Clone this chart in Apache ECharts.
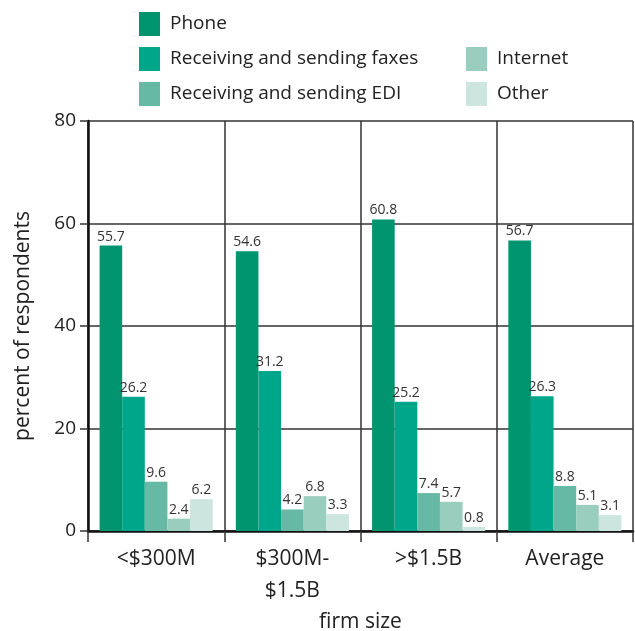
<!DOCTYPE html>
<html><head><meta charset="utf-8">
<script src="https://cdn.jsdelivr.net/npm/echarts@6/dist/echarts.min.js"></script>
<style>html,body{margin:0;padding:0;background:#fff}#c{width:635px;height:631px}</style>
</head><body><div id="c"></div>
<script>
const categories = ['<$300M', '$300M-\n$1.5B', '>$1.5B', 'Average'];
const seriesNames = ['Phone', 'Receiving and sending faxes', 'Receiving and sending EDI', 'Internet', 'Other'];
const phone = [55.7, 54.6, 60.8, 56.7];
const faxes = [26.2, 31.2, 25.2, 26.3];
const edi = [9.6, 4.2, 7.4, 8.8];
const internet = [2.4, 6.8, 5.7, 5.1];
const other = [6.2, 3.3, 0.8, 3.1];
const yTicks = [0, 20, 40, 60, 80];
const colors = ['#00956f', '#00a68a', '#66b9a4', '#99cdbd', '#cde5df'];
const values = [phone, faxes, edi, internet, other];
const font = 'Open Sans';

const chart = echarts.init(document.getElementById('c'));
const legendBase = {
  itemWidth: 21, itemHeight: 24, itemGap: 11, icon: 'rect',
  textStyle: { fontFamily: font, fontSize: 19, color: '#222', padding: [0, 0, 0, 5] },
  selectedMode: false
};
chart.setOption({
  animation: false,
  color: colors,
  textStyle: { fontFamily: font },
  legend: [
    Object.assign({}, legendBase, { data: [seriesNames[0]], left: 134, top: 7 }),
    Object.assign({}, legendBase, { data: [seriesNames[1], seriesNames[2]], left: 134, top: 42, orient: 'vertical' }),
    Object.assign({}, legendBase, { data: [seriesNames[3], seriesNames[4]], left: 461, top: 42, orient: 'vertical' })
  ],
  grid: { left: 88, right: 2, top: 121, bottom: 100, containLabel: false, outerBoundsMode: 'none' },
  xAxis: {
    type: 'category', data: categories,
    name: 'firm size', nameLocation: 'middle', nameGap: 80,
    nameTextStyle: { fontFamily: font, fontSize: 21, color: '#222' },
    axisLine: { lineStyle: { color: '#111', width: 2.5 } },
    axisTick: { show: true, length: 11, lineStyle: { color: '#333', width: 1.5 } },
    axisLabel: { fontFamily: font, fontSize: 21, color: '#222', margin: 12, lineHeight: 32 },
    splitLine: { show: true, lineStyle: { color: '#333', width: 1.5 } }
  },
  yAxis: {
    type: 'value', min: 0, max: 80, interval: 20,
    name: 'percent of respondents', nameLocation: 'middle', nameGap: 54,
    nameTextStyle: { fontFamily: font, fontSize: 21, color: '#222' },
    axisLine: { show: true, lineStyle: { color: '#111', width: 2.5 } },
    axisTick: { show: true, length: 8, lineStyle: { color: '#333', width: 1.5 } },
    axisLabel: { fontFamily: font, fontSize: 19, color: '#222', margin: 12,
      formatter: v => yTicks.includes(v) ? String(v) : '' },
    splitLine: { show: true, lineStyle: { color: '#333', width: 1.5 } }
  },
  series: seriesNames.map((n, i) => ({
    name: n, type: 'bar', data: values[i],
    barGap: '0%', barCategoryGap: '17%',
    label: { show: true, position: 'top', distance: 2, fontFamily: font, fontSize: 14, color: '#333' }
  }))
});
</script></body></html>
